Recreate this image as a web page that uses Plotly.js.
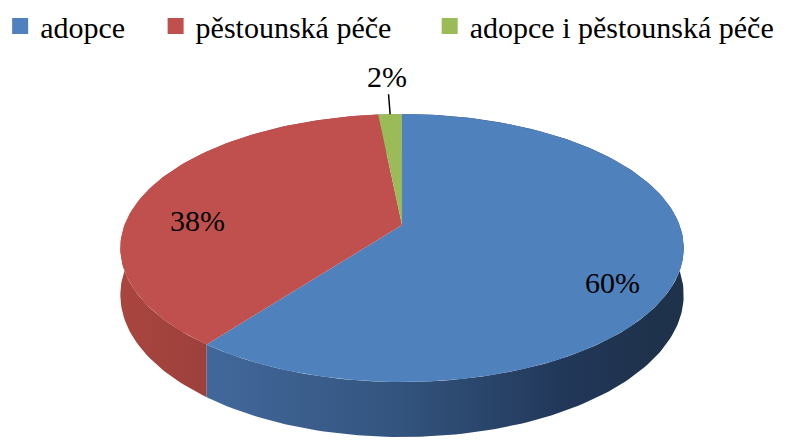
<!DOCTYPE html>
<html>
<head>
<meta charset="utf-8">
<script src="https://cdn.plot.ly/plotly-3.0.1.min.js"></script>
</head>
<body style="margin:0;background:#fff">
<div id="chart"></div>
<script>
// Data
const categories = ['adopce', 'pěstounská péče', 'adopce i pěstounská péče'];
const values = [60.4, 38.0, 1.6];
const topColors = ['#4f81bd', '#c0504d', '#9bbb59'];
const sideScales = [
  [[0, '#43699d'], [0.45, '#33547e'], [0.8, '#22385a'], [1, '#1f324c']],
  [[0, '#a9453f'], [0.3, '#9d403c'], [1, '#9a3f3b']],
  [[0, '#7d9a45'], [1, '#7d9a45']]
];
const F = 'Liberation Serif';

// Geometry of the tilted pie (projection parameters)
const cx = 397, cy = 225, A = 281, B = 130, k = 0.172, H = 45.5;
function proj(u, v, down) {
  const d = 1 + k * v;
  return [cx + A * u / d, cy - B * v / d + (down ? H / d : 0)];
}

const total = values.reduce((a, b) => a + b, 0);
const traces = [];
const annotations = [];
let start = 0;
const slices = values.map((v, i) => {
  const a0 = start, a1 = start + v / total * 2 * Math.PI;
  start = a1;
  return {a0, a1, i};
});

function arc(a0, a1, down) {
  const n = Math.max(4, Math.ceil((a1 - a0) / (2 * Math.PI) * 300));
  const pts = [];
  for (let j = 0; j <= n; j++) {
    const t = a0 + (a1 - a0) * j / n;
    pts.push(proj(Math.sin(t), Math.cos(t), down));
  }
  return pts;
}

// side bands (back slices first)
[2, 1, 0].forEach(i => {
  const s = slices[i];
  const topArc = arc(s.a0, s.a1, false);
  const botArc = arc(s.a0, s.a1, true).reverse();
  const pts = topArc.concat(botArc);
  pts.push(topArc[0]);
  const xs = pts.map(p => p[0]);
  traces.push({
    type: 'scatter', mode: 'lines', x: xs, y: pts.map(p => p[1]),
    fill: 'toself', line: {width: 0},
    fillgradient: {type: 'horizontal', colorscale: sideScales[i],
      start: i === 1 ? cx - A * 1.015 : (i === 0 ? cx - A * 0.75 : Math.min(...xs)),
      stop: i === 1 ? cx : (i === 0 ? cx + A * 0.9 : Math.max(...xs))},
    hoverinfo: 'skip', showlegend: false
  });
});

// top faces
slices.forEach(s => {
  const pts = [proj(0, 0, false)].concat(arc(s.a0, s.a1, false));
  pts.push(proj(0, 0, false));
  traces.push({
    type: 'scatter', mode: 'lines', x: pts.map(p => p[0]), y: pts.map(p => p[1]),
    fill: 'toself', fillcolor: topColors[s.i], line: {width: 0},
    hoverinfo: 'skip', showlegend: false
  });
  const mid = (s.a0 + s.a1) / 2;
  const pct = Math.round(values[s.i] / total * 100) + '%';
  if (values[s.i] / total > 0.05) {
    const f = 0.78;
    const u = f * Math.sin(mid), v = f * Math.cos(mid);
    const d = 1 + k * v;
    const p = proj(u, v, false);
    annotations.push({x: p[0] - 4, y: p[1] + H / 2 / d, text: pct, showarrow: false,
      font: {family: F, size: 30}});
  } else {
    const p = proj(Math.sin(mid), Math.cos(mid), false);
    annotations.push({x: p[0], y: p[1], text: pct, showarrow: true, arrowhead: 0,
      arrowwidth: 1.5, arrowcolor: '#000', ax: -3, ay: -38, standoff: 0,
      font: {family: F, size: 30}});
  }
});

// legend entries (one legend per entry, placed like the reference)
const legendIds = ['legend', 'legend2', 'legend3'];
const legendX = [-0.0125, 0.1848, 0.5326];
categories.forEach((c, i) => {
  traces.push({type: 'scatter', mode: 'markers', x: [null], y: [null], name: c,
    legend: legendIds[i],
    marker: {symbol: 'square', size: 16, color: topColors[i]}, hoverinfo: 'skip'});
});

const layout = {
  width: 798, height: 442,
  margin: {l: 0, r: 0, t: 0, b: 0},
  paper_bgcolor: '#fff', plot_bgcolor: '#fff',
  font: {family: F, color: '#000'},
  xaxis: {range: [0, 798], visible: false},
  yaxis: {range: [442, 0], visible: false},
  showlegend: true,
  annotations: annotations
};
legendIds.forEach((id, i) => {
  layout[id] = {orientation: 'h', x: legendX[i], y: 1, xanchor: 'left', yanchor: 'top',
    font: {family: F, size: 30}, bgcolor: 'rgba(0,0,0,0)'};
});

Plotly.newPlot('chart', traces, layout, {staticPlot: true});
</script>
</body>
</html>
